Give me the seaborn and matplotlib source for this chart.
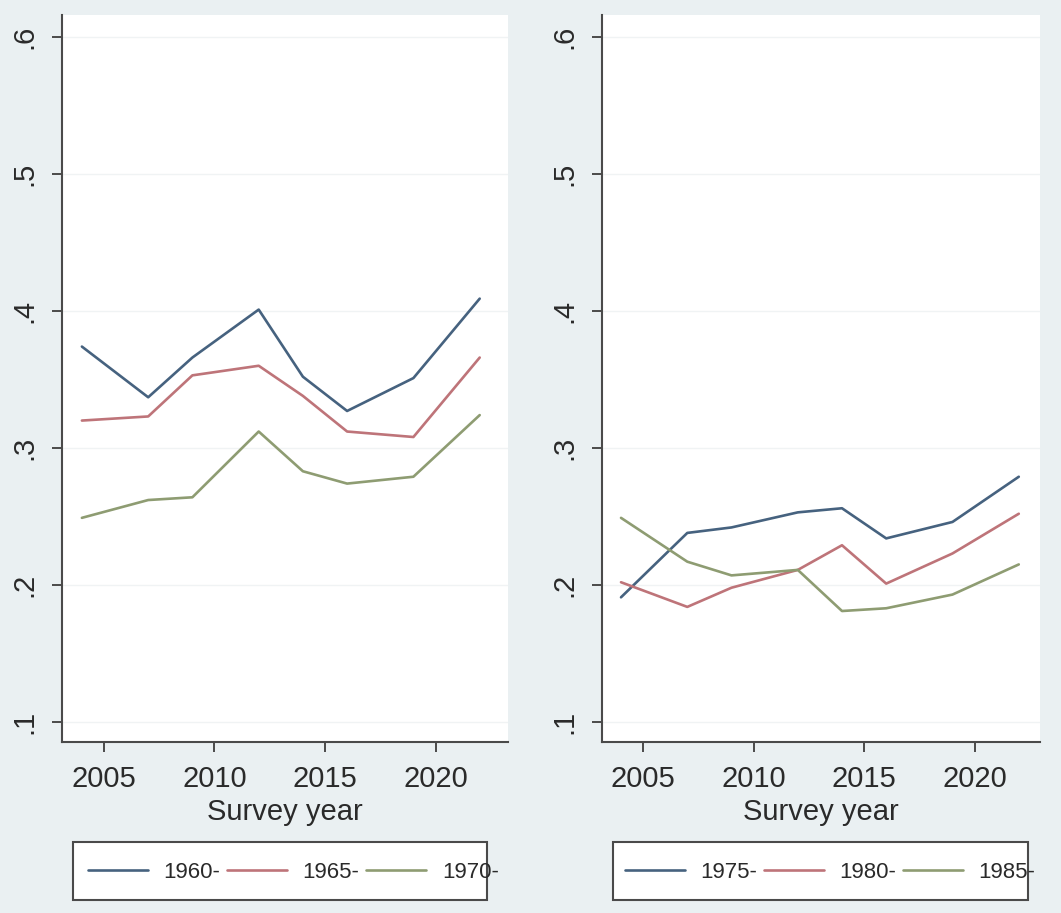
import numpy as np
import pandas as pd
import matplotlib
matplotlib.use("Agg")
import matplotlib.pyplot as plt
from matplotlib.patches import Rectangle
import seaborn as sns

# Survey waves
years = [2004, 2007, 2009, 2012, 2014, 2016, 2019, 2022]

# Earlier birth cohorts
cohorts_left = ["1960-", "1965-", "1970-"]
share_1960 = [0.374, 0.337, 0.366, 0.401, 0.352, 0.327, 0.351, 0.409]
share_1965 = [0.320, 0.323, 0.353, 0.360, 0.338, 0.312, 0.308, 0.366]
share_1970 = [0.249, 0.262, 0.264, 0.312, 0.283, 0.274, 0.279, 0.324]

# Later birth cohorts
cohorts_right = ["1975-", "1980-", "1985-"]
share_1975 = [0.191, 0.238, 0.242, 0.253, 0.256, 0.234, 0.246, 0.279]
share_1980 = [0.202, 0.184, 0.198, 0.211, 0.229, 0.201, 0.223, 0.252]
share_1985 = [0.249, 0.217, 0.207, 0.211, 0.181, 0.183, 0.193, 0.215]

y_ticks = [0.1, 0.2, 0.3, 0.4, 0.5, 0.6]
y_tick_labels = [".1", ".2", ".3", ".4", ".5", ".6"]
x_ticks = [2005, 2010, 2015, 2020]
x_label = "Survey year"

line_colors = ["#46627F", "#BE7479", "#8E9C72"]
bg_color = "#EAF0F2"
axis_color = "#4a4a4a"
text_color = "#2a2a2a"

sns.set_theme(style="white")
plt.rcParams["font.family"] = ["Liberation Sans", "DejaVu Sans"]

W, H = 1061, 913
fig = plt.figure(figsize=(W / 100, H / 100), dpi=100, facecolor=bg_color)


def px_rect(x0, y0, x1, y1):
    """Figure-fraction rectangle from pixel edges (top-left origin)."""
    return [x0 / W, 1 - y1 / H, (x1 - x0) / W, (y1 - y0) / H]


def draw_panel(rect, xlim, cohorts, series, legend_x, frame):
    ax = fig.add_axes(rect)
    ax.set_facecolor("white")
    df = pd.DataFrame({
        "year": years * len(cohorts),
        "share": [v for s in series for v in s],
        "cohort": [c for c in cohorts for _ in years],
    })
    for yt in y_ticks:
        ax.axhline(yt, color="#F0F3F4", lw=1.0, zorder=0)
    sns.lineplot(data=df, x="year", y="share", hue="cohort",
                 hue_order=cohorts, palette=line_colors,
                 linewidth=1.9, ax=ax)

    ax.set_xlim(*xlim)
    ax.set_ylim(0.0854, 0.616)
    ax.set_xticks(x_ticks)
    ax.set_xticklabels([str(t) for t in x_ticks])
    ax.set_yticks(y_ticks)
    ax.set_yticklabels(y_tick_labels, rotation=90, va="center")
    ax.tick_params(axis="both", direction="out", length=7.5, width=1.4,
                   color=axis_color, labelsize=21, labelcolor=text_color,
                   bottom=True, left=True)
    ax.tick_params(axis="y", pad=9.5)
    ax.tick_params(axis="x", pad=9)
    ax.set_xlabel(x_label, fontsize=21, color=text_color, labelpad=4)
    ax.set_ylabel("")
    for side in ["top", "right"]:
        ax.spines[side].set_visible(False)
    for side in ["left", "bottom"]:
        ax.spines[side].set_color(axis_color)
        ax.spines[side].set_linewidth(1.5)

    handles = ax.legend_.legend_handles
    labels = [t.get_text() for t in ax.legend_.texts]
    ax.legend_.remove()

    fx0, fy0, fx1, fy1 = frame
    fig.patches.append(Rectangle((fx0 / W, 1 - fy1 / H), (fx1 - fx0) / W,
                                 (fy1 - fy0) / H, transform=fig.transFigure,
                                 facecolor="white", edgecolor=axis_color,
                                 linewidth=1.5, zorder=1))
    leg = fig.legend(handles, labels, loc="center left",
                     bbox_to_anchor=(legend_x / W, 1 - 872 / H),
                     bbox_transform=fig.transFigure, ncol=3, frameon=False,
                     borderpad=0, borderaxespad=0, handlelength=2.7,
                     handletextpad=0.7, columnspacing=0.3, fontsize=16)
    for t in leg.get_texts():
        t.set_color(text_color)
    for h in leg.legend_handles:
        h.set_linewidth(1.9)
    return ax


draw_panel(px_rect(62, 15, 508, 742), (2003.1, 2023.28),
           cohorts_left, [share_1960, share_1965, share_1970],
           88, (73, 842, 487, 900))
draw_panel(px_rect(602, 15, 1040, 742), (2003.14, 2022.96),
           cohorts_right, [share_1975, share_1980, share_1985],
           625, (613, 842, 1028, 900))

fig.savefig("out.png", dpi=100, facecolor=bg_color)
